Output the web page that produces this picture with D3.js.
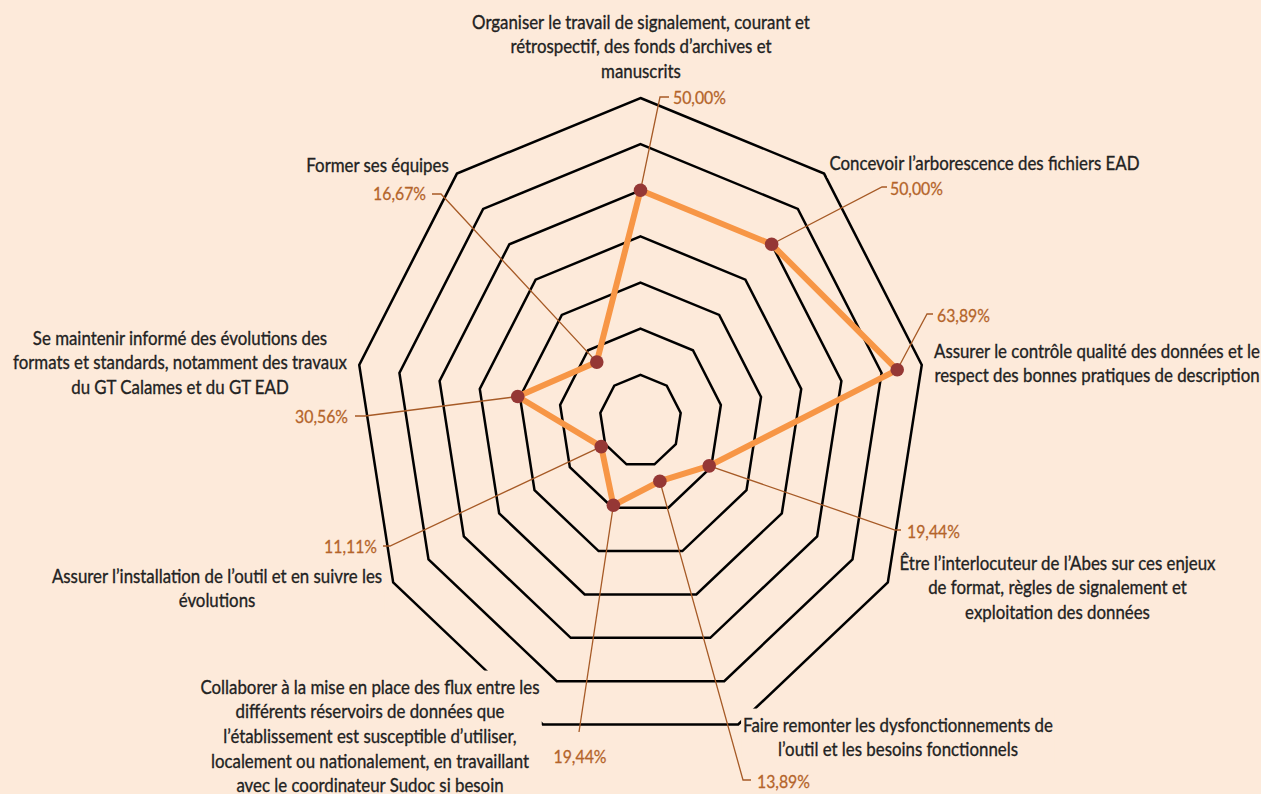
<!DOCTYPE html>
<html lang="fr">
<head>
  <meta charset="UTF-8">
  <title>Radar des missions</title>
  <style>
    body {
      margin: 0;
      background: #FDEADA;
    }
    svg { display: block; }
    .cat { font-family: Lato, sans-serif; fill: #222; stroke: #222; stroke-width: 0.3px; }
    .val { font-family: Lato, sans-serif; fill: #B4642A; stroke: #B4642A; stroke-width: 0.25px; }
  </style>
</head>
<body>
  <svg id="chart"></svg>

  <script src="https://d3js.org/d3.v7.min.js"></script>
  <script>
    // --- data ---
    const categories = [
      ["Organiser le travail de signalement, courant et", "rétrospectif, des fonds d’archives et", "manuscrits"],
      ["Concevoir l’arborescence des fichiers EAD"],
      ["Assurer le contrôle qualité des données et le", "respect des bonnes pratiques de description"],
      ["Être l’interlocuteur de l’Abes sur ces enjeux", "de format, règles de signalement et", "exploitation des données"],
      ["Faire remonter les dysfonctionnements de", "l’outil et les besoins fonctionnels"],
      ["Collaborer à la mise en place des flux entre les", "différents réservoirs de données que", "l’établissement est susceptible d’utiliser,", "localement ou nationalement, en travaillant", "avec le coordinateur Sudoc si besoin"],
      ["Assurer l’installation de l’outil et en suivre les", "évolutions"],
      ["Se maintenir informé des évolutions des", "formats et standards, notamment des travaux", "du GT Calames et du GT EAD"],
      ["Former ses équipes"]
    ];
    const values = [50.00, 50.00, 63.89, 19.44, 13.89, 19.44, 11.11, 30.56, 16.67];
    const ringTicks = [10, 20, 30, 40, 50, 60, 70];

    // --- label layout (moved by hand in the original) ---
    // centre of the first line of each category label
    const catLabelPos = [
      [641, 22], [984.5, 163], [1097, 351], [1057.5, 563], [898, 725],
      [370, 687], [217, 576], [180, 338], [377.5, 165]
    ];
    // value label: text x, y, anchor, leader elbow (ex, ey), tick end tx
    const valLabelPos = [
      { x: 673, y: 98,  anchor: "start",  ex: 660, ey: 97,  tx: 669 },
      { x: 890, y: 189, anchor: "start",  ex: 882, ey: 187, tx: 887 },
      { x: 937, y: 316, anchor: "start",  ex: 927, ey: 314, tx: 933 },
      { x: 907, y: 532, anchor: "start",  ex: 895, ey: 530, tx: 901 },
      { x: 757, y: 782, anchor: "start",  ex: 743, ey: 780, tx: 751 },
      { x: 580, y: 757, anchor: "middle", ex: 579, ey: 732, tx: 579 },
      { x: 377, y: 547, anchor: "end",    ex: 390, ey: 546, tx: 383 },
      { x: 348, y: 417, anchor: "end",    ex: 365, ey: 416, tx: 355 },
      { x: 426, y: 194, anchor: "end",    ex: 441, ey: 194, tx: 432 }
    ];

    const width = 1261;
    const height = 794;
    const cx = 640.5;
    const cy = 421;
    const stretch = 1.131; // the picture is taller than wide
    const bg = "#FDEADA";

    const svg = d3.select("#chart")
      .attr("width", width)
      .attr("height", height);

    svg.append("rect")
      .attr("width", width)
      .attr("height", height)
      .attr("fill", bg);

    const rx = d3.scaleLinear().domain([0, 70]).range([0, 285.6]);
    const ry = d3.scaleLinear().domain([0, 70]).range([0, 323]);
    const angle = d3.scaleLinear().domain([0, categories.length]).range([0, 2 * Math.PI]);

    const pt = (v, i) => [
      cx + rx(v) * Math.sin(angle(i)),
      cy - ry(v) * Math.cos(angle(i))
    ];

    const fmt = d3.formatLocale({ decimal: ",", thousands: " ", grouping: [3], currency: ["", " €"] }).format(".2f");

    // fit font sizes to the widths measured on the picture
    function fitSize(str, cls, target) {
      const t = svg.append("text").attr("class", cls).style("font-size", "16px").text(str);
      const w = t.node().getComputedTextLength();
      t.remove();
      return 16 * target / w;
    }
    const catSize = fitSize(categories[0][0], "cat", 338);
    const valSize = fitSize(fmt(values[2]) + "%", "val", 53);
    const lineGap = 24.7;

    // grid rings
    const ring = d3.line().curve(d3.curveLinearClosed);
    svg.append("g")
      .selectAll("path")
      .data(ringTicks)
      .join("path")
      .attr("d", t => ring(categories.map((c, i) => pt(t, i))))
      .attr("fill", "none")
      .attr("stroke", "#000")
      .attr("stroke-width", 2.5)
      .attr("stroke-linejoin", "miter");

    // category labels, with a filled box that hides the rings behind
    const catG = svg.append("g");
    categories.forEach((lines, i) => {
      const g = catG.append("g")
        .attr("transform", `translate(${catLabelPos[i][0]},${catLabelPos[i][1]}) scale(1,${stretch})`);
      lines.forEach((line, j) => {
        g.append("text")
          .attr("class", "cat")
          .attr("text-anchor", "middle")
          .attr("y", j * lineGap / stretch)
          .attr("dy", "0.35em")
          .style("font-size", catSize + "px")
          .text(line);
      });
      const b = g.node().getBBox();
      g.insert("rect", "text")
        .attr("x", b.x - 2)
        .attr("y", b.y - 4 / stretch)
        .attr("width", b.width + 4)
        .attr("height", b.height + 8 / stretch)
        .attr("fill", bg);
    });

    // series
    const pts = values.map((v, i) => pt(v, i));
    svg.append("path")
      .attr("d", ring(pts))
      .attr("fill", "none")
      .attr("stroke", "#F79646")
      .attr("stroke-width", 6)
      .attr("stroke-linejoin", "round");

    // leader lines
    svg.append("g")
      .selectAll("polyline")
      .data(valLabelPos)
      .join("polyline")
      .attr("points", (d, i) => [pts[i], [d.ex, d.ey], [d.tx, d.ey]].map(p => p.join(",")).join(" "))
      .attr("fill", "none")
      .attr("stroke", "#A65A26")
      .attr("stroke-width", 1.3);

    // markers
    svg.append("g")
      .selectAll("circle")
      .data(pts)
      .join("circle")
      .attr("cx", d => d[0])
      .attr("cy", d => d[1])
      .attr("r", 6.8)
      .attr("fill", "#953735");

    // value labels
    svg.append("g")
      .selectAll("text")
      .data(values)
      .join("text")
      .attr("class", "val")
      .attr("transform", (d, i) => `translate(${valLabelPos[i].x},${valLabelPos[i].y}) scale(1,${stretch})`)
      .attr("text-anchor", (d, i) => valLabelPos[i].anchor)
      .attr("dy", "0.35em")
      .style("font-size", valSize + "px")
      .text(d => fmt(d) + "%");
  </script>
</body>
</html>
